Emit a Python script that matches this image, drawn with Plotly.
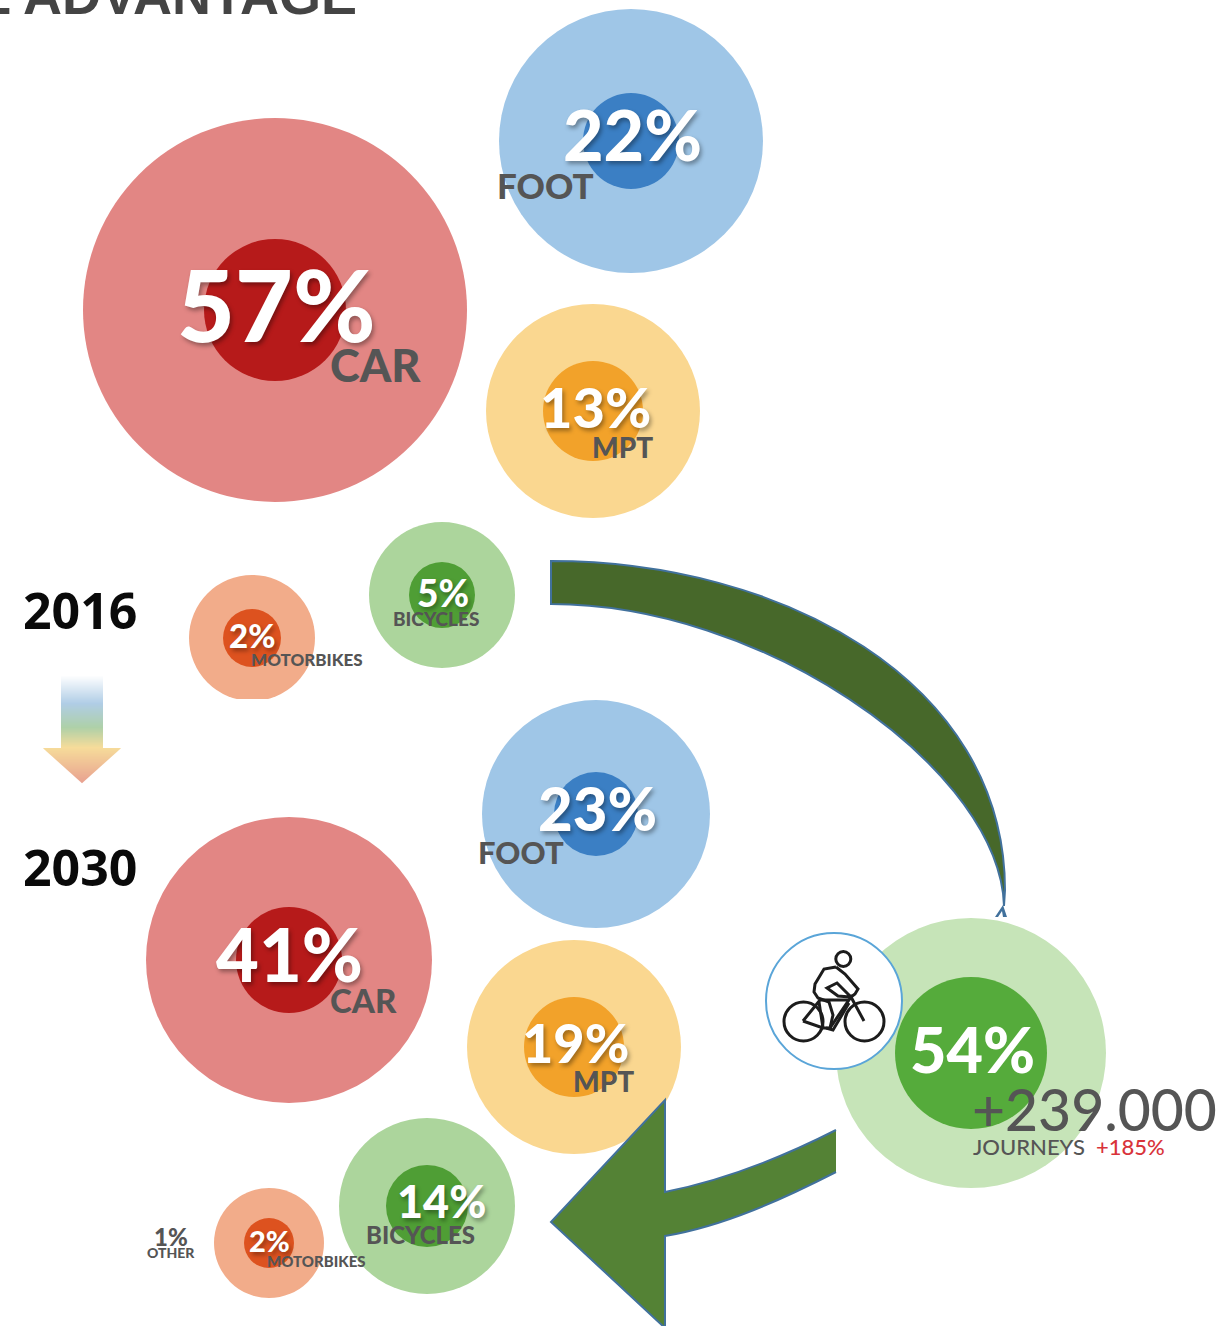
import plotly.graph_objects as go

# ---- chart content -------------------------------------------------------
MODES = ["FOOT", "CAR", "MPT", "BICYCLES", "MOTORBIKES"]
SHARE_2016 = [22, 57, 13, 5, 2]
SHARE_2030 = [23, 41, 19, 14, 2]
OTHER_2030 = 1
YEARS = ["2016", "2030"]
BIKE_SHARE = 54
BIKE_JOURNEYS = "+239.000"
BIKE_GROWTH = "+185%"
TITLE = "L ADVANTAGE"

# ---- layout (pixel canvas) ----------------------------------------------
W, H = 1218, 1326
OUTER = ["#9fc6e7", "#e28684", "#fad790", "#acd59c", "#f2ac8a"]
INNER = ["#3b7fc4", "#b61a1a", "#f2a22a", "#4f9e35", "#dd521f"]
GREY = "#555555"
SHADOW = "2px 3px 4px rgba(0,0,0,0.35)"

CX_16, CY_16 = [631, 275, 593, 442, 252], [141, 310, 411, 595, 638]
RO_16, RI_16 = [132, 192, 107, 73, 63], [48, 71, 50, 33, 29]
CX_30, CY_30 = [596, 289, 574, 427, 269], [814, 960, 1047, 1206, 1243]
RO_30, RI_30 = [114, 143, 107, 88, 55], [42, 53, 50, 41, 25]

# text placement: x, y, size
PCT_16 = [(632, 134, 70), (276, 303, 100), (595, 406, 56), (443, 592, 37), (252, 635, 33)]
PCT_30 = [(597, 808, 60), (289, 953, 74), (575, 1042, 54), (441, 1201, 45), (269, 1240, 29)]
LBL_16 = [(545, 185, 35), (375, 365, 45), (622, 447, 28), (436, 618, 19), (307, 659, 17)]
LBL_30 = [(521, 852, 31), (363, 1000, 33), (603, 1081, 28), (420, 1234, 24), (316, 1261, 15)]

fig = go.Figure()


def bubbles(cx, cy, radii, colours):
    fig.add_trace(go.Scatter(
        x=cx, y=cy, mode="markers", hoverinfo="skip", showlegend=False, cliponaxis=False,
        marker=dict(size=[2 * r for r in radii], sizemode="diameter", color=colours,
                    opacity=1, line=dict(width=0))))


bubbles(CX_16, CY_16, RO_16, OUTER)
bubbles(CX_16, CY_16, RI_16, INNER)
bubbles(CX_30, CY_30, RO_30, OUTER)
bubbles(CX_30, CY_30, RI_30, INNER)
bubbles([971], [1053], [135], ["#c6e4b8"])
bubbles([971], [1053], [76], ["#55ab3b"])
fig.add_trace(go.Scatter(
    x=[834], y=[1001], mode="markers", hoverinfo="skip", showlegend=False,
    marker=dict(size=136, color="white", line=dict(width=2, color="#5aa5d8"))))

shapes = []
# white box cutting the bottom of the 2016 motorbikes bubble
shapes.append(dict(type="rect", x0=180, x1=330, y0=699, y1=712, fillcolor="white", line_width=0))

# curved arrow 2016 -> bicycle bubble
shapes.append(dict(type="path", fillcolor="#47682a", line=dict(color="#41719c", width=2),
                   path="M 551 561 C 780 561 1005 680 1005 890 L 1004 906 L 1003 893 "
                        "C 985 760 760 604 551 604 Z"))
shapes.append(dict(type="path", fillcolor="#41719c", line_width=0,
                   path="M 1003 905 L 995 917 L 998 917 L 1002 911 L 1003 917 L 1007 917 Z"))

# arrow bicycle bubble -> 2030: fill first, outline left open at the cut end
ARROW = ("M 836 1130 C 785 1156 725 1180 665 1192 L 665 1100 L 551 1222 "
         "L 665 1328 L 665 1236 C 725 1226 785 1198 836 1172")
shapes.append(dict(type="path", fillcolor="#548235", line_width=0, path=ARROW + " Z"))
shapes.append(dict(type="path", fillcolor="rgba(0,0,0,0)", line=dict(color="#41719c", width=2),
                   path=ARROW))

# gradient arrow between the years, painted in thin strips
STOPS = [(675, (255, 255, 255)), (703, (176, 205, 230)), (727, (174, 208, 168)),
         (747, (246, 220, 154)), (783, (232, 160, 144))]


def grad(y):
    for (y0, c0), (y1, c1) in zip(STOPS, STOPS[1:]):
        if y0 <= y <= y1:
            t = (y - y0) / (y1 - y0)
            return "rgb(%d,%d,%d)" % tuple(round(a + (b - a) * t) for a, b in zip(c0, c1))
    return "rgb(232,160,144)"


for yy in range(675, 783):
    half = 21 if yy < 748 else 39 * (783 - yy) / 35
    half2 = 21 if yy < 748 else 39 * (783 - yy - 1) / 35
    shapes.append(dict(type="path", fillcolor=grad(yy), line_width=0,
                       path=f"M {82 - half} {yy} L {82 + half} {yy} L {82 + half2} {yy + 1.3} "
                            f"L {82 - half2} {yy + 1.3} Z"))

# cyclist icon, drawn in image px
ICON = dict(color="#1c1c1c", width=3)
for cx, cy, r in [(803.5, 1021.5, 19.5), (864.5, 1021.5, 19.5), (843.3, 959, 7.5)]:
    shapes.append(dict(type="circle", x0=cx - r, x1=cx + r, y0=cy - r, y1=cy + r,
                       line=ICON, fillcolor="rgba(0,0,0,0)"))
BIKE_LINES = [
    [(836, 967), (824, 969), (815, 984), (814, 992), (818, 998), (829, 1002), (833, 1015), (830, 1028)],
    [(836, 967), (845, 974), (858, 989), (855, 994), (851, 997), (837, 983), (827, 988), (838, 996), (850, 997)],
    [(803, 1021), (823, 1028), (830, 1028), (851, 997), (864, 1021)],
    [(803, 1021), (820, 1000), (849, 1000)],
    [(819, 1002), (823, 1028)],
    [(826, 1028), (833, 1030), (849, 1003)],
]
for pts in BIKE_LINES:
    d = "M " + " L ".join(f"{x} {y}" for x, y in pts)
    shapes.append(dict(type="path", path=d, line=ICON, fillcolor="rgba(0,0,0,0)"))

for s in shapes:
    s.update(xref="x", yref="y", layer="above")

ann = []


def text(x, y, t, size, color=GREY, weight=700, family="Lato", shadow=None, **kw):
    f = dict(family=family, size=size, color=color, weight=weight)
    if shadow:
        f["shadow"] = shadow
    ann.append(dict(x=x, y=y, xref="x", yref="y", text=t, showarrow=False, font=f,
                    xanchor=kw.get("xanchor", "center"), yanchor=kw.get("yanchor", "middle")))


for mode, v, (x, y, s), (lx, ly, ls) in zip(MODES, SHARE_2016, PCT_16, LBL_16):
    text(lx, ly, mode, ls, weight=900)
    text(x, y, f"{v}%", s, "white", weight=900, shadow=SHADOW)
for mode, v, (x, y, s), (lx, ly, ls) in zip(MODES, SHARE_2030, PCT_30, LBL_30):
    text(lx, ly, mode, ls, weight=900)
    text(x, y, f"{v}%", s, "white", weight=900, shadow=SHADOW)

text(171, 1236, f"{OTHER_2030}%", 24, weight=900)
text(171, 1252, "OTHER", 14, weight=900)
text(80, 610, YEARS[0], 50, "#0a0a0a", family="Open Sans")
text(80, 867, YEARS[1], 50, "#0a0a0a", family="Open Sans")
text(972, 1048, f"{BIKE_SHARE}%", 63, "white", weight=900)
text(1094, 1109, BIKE_JOURNEYS, 57, GREY, weight=500)
text(1029, 1146, "JOURNEYS", 22, GREY, weight=500)
text(1130, 1146, BIKE_GROWTH, 22, "#d9333a", weight=500)
text(359, 27, TITLE, 54, "#444444", weight=700, family="Liberation Sans",
     xanchor="right", yanchor="bottom")

fig.update_layout(
    width=W, height=H, autosize=False, margin=dict(l=0, r=0, t=0, b=0, pad=0),
    paper_bgcolor="white", plot_bgcolor="white", showlegend=False,
    shapes=shapes, annotations=ann,
    xaxis=dict(range=[0, W], visible=False, fixedrange=True),
    yaxis=dict(range=[H, 0], visible=False, fixedrange=True),
)
fig.write_html("out.html", config={"displayModeBar": False},
               post_script="document.body.style.margin='0';document.body.style.overflow='hidden';")
